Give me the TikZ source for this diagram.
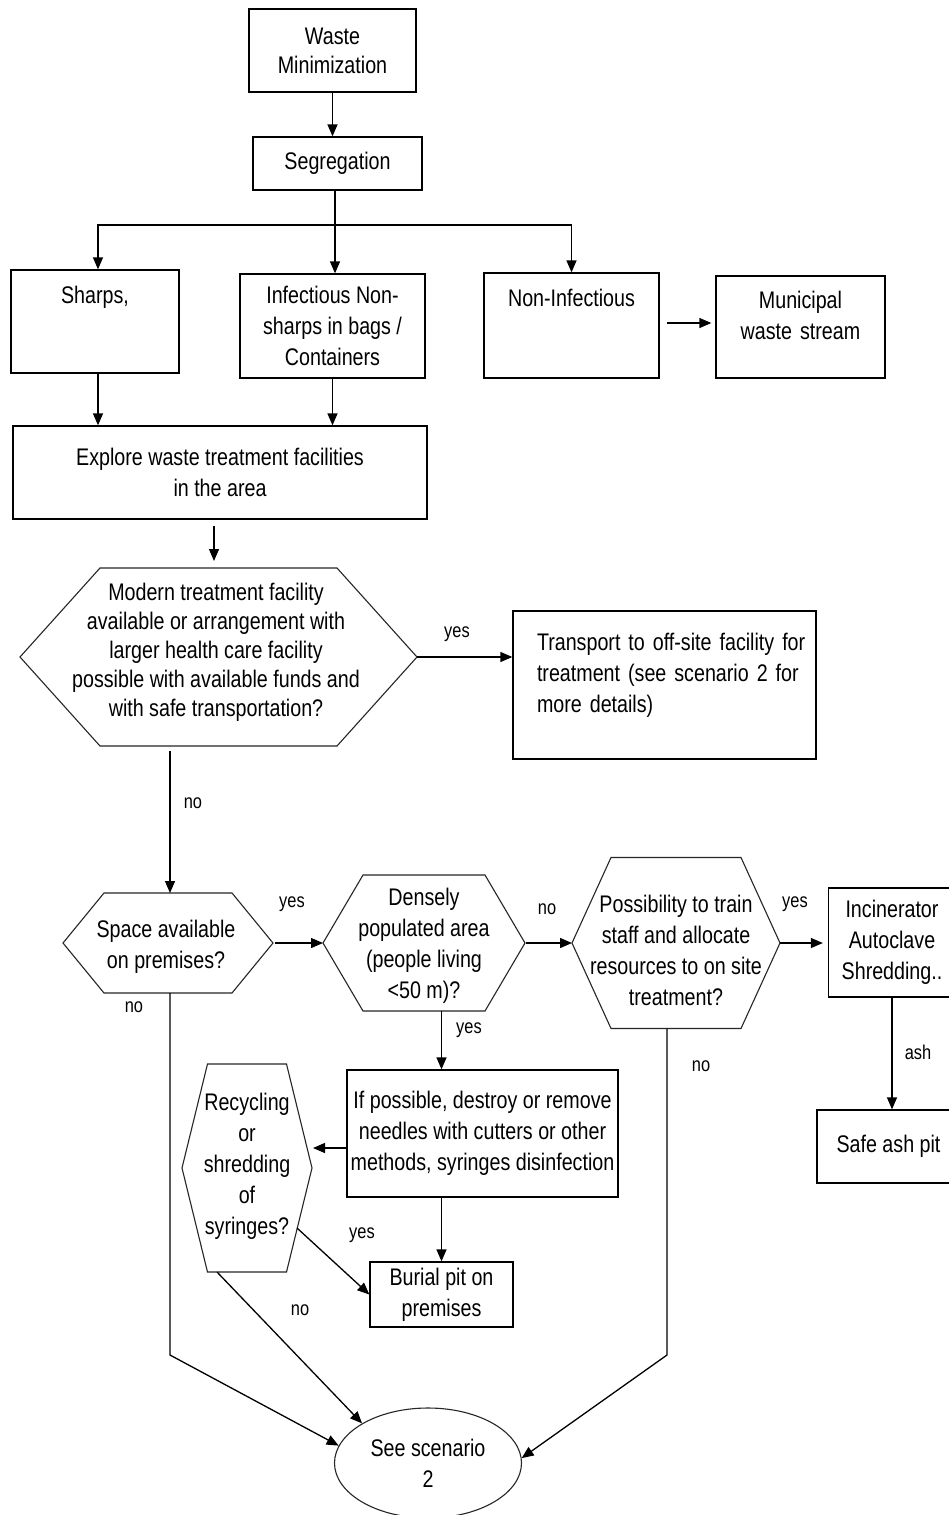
\documentclass[tikz,border=0pt]{standalone}
\usepackage{fontspec}
\setmainfont[FakeStretch=0.82]{Liberation Sans}
\usetikzlibrary{arrows.meta,shapes.geometric,calc}

\tikzset{
  every node/.style={font=\fontsize{24}{31}\selectfont},
  box/.style={draw=black, line width=1.3pt, rectangle, inner sep=0pt, align=center},
  hexline/.style={draw=black!85, line width=1.1pt, line join=miter},
  txt/.style={inner sep=0pt, align=center},
  lbl/.style={inner sep=0pt, font=\fontsize{20}{24}\selectfont},
  conn/.style={draw=black, line width=1.3pt},
  arrow/.style={conn, -{Triangle[length=12pt,width=10pt]}},
}

% hexagon with pointed left/right ends: name, cx, cy, half width, half flat width, half height
\newcommand{\drawhexagon}[6]{%
  \coordinate (#1-W) at ({#2-#4},{#3});
  \coordinate (#1-E) at ({#2+#4},{#3});
  \coordinate (#1-N) at ({#2},{#3-#6});
  \coordinate (#1-S) at ({#2},{#3+#6});
  \draw[hexline] (#1-W) -- ({#2-#5},{#3-#6}) -- ({#2+#5},{#3-#6}) -- (#1-E)
    -- ({#2+#5},{#3+#6}) -- ({#2-#5},{#3+#6}) -- cycle;
}

\begin{document}
\begin{tikzpicture}[x=1pt,y=-1pt]
\fill[white] (0,0) rectangle (948,1515);
\useasboundingbox (0,0) rectangle (948,1515);

% ---- top part ----
\node[box, minimum width=167pt, minimum height=83pt, font=\fontsize{24}{29}\selectfont] (wm) at (332.5,50.5) {Waste\\Minimization};
\node[box, minimum width=169pt, minimum height=53pt] (seg) at (337.5,163.5) {Segregation};

\node[box, text width=168pt, text height=33pt, text depth=70pt] (sharps) at (95,321.5) {Sharps,};
\node[box, minimum width=185pt, minimum height=104pt] (inf) at (332.5,326) {Infectious Non-\\sharps in bags /\\Containers};
\node[box, text width=175pt, text height=33pt, text depth=72pt] (noninf) at (571.5,325.5) {Non-Infectious};
\node[box, text width=169pt, text height=32pt, text depth=70pt] (mun) at (800.5,327) {Municipal\\waste stream};

\node[box, minimum width=414pt, minimum height=93pt] (exp) at (220,472.5) {Explore waste treatment facilities\\in the area};

% ---- first decision ----
\drawhexagon{mod}{218.5}{657}{198.5}{118.5}{89}
\node[txt, font=\fontsize{24}{29}\selectfont] (mod) at (216,652) {Modern treatment facility\\available or arrangement with\\larger health care facility\\possible with available funds and\\with safe transportation?};

\node[box, align=left, text width=303pt, text height=39pt, text depth=109pt] (trans) at (664.5,685)
  {\hspace*{24pt}\makebox[267pt][s]{Transport to off-site facility for}\\
   \hspace*{24pt}\makebox[267pt][s]{treatment (see scenario 2 for}\\
   \hspace*{24pt}more details)};

% ---- second row of decisions ----
\drawhexagon{sp}{168}{943}{105}{64}{50}
\node[txt] (sp) at (166,947) {Space available\\on premises?};

\drawhexagon{den}{424}{943}{101}{61}{68}
\node[txt] (den) at (424,946) {Densely\\populated area\\(people living\\<50 m)?};

\drawhexagon{pos}{676}{943}{104}{65}{85.5}
\node[txt] (pos) at (676,950) {Possibility to train\\staff and allocate\\resources to on site\\treatment?};

\node[box, minimum width=127pt, minimum height=109pt] (inc) at (892,942.5) {Incinerator\\Autoclave\\Shredding..};
\node[box, minimum width=143pt, minimum height=73pt] (ash) at (888.5,1146.5) {Safe ash pit};

% ---- lower part ----
\node[box, minimum width=271pt, minimum height=127pt] (iff) at (482.5,1133.5) {If possible, destroy or remove\\needles with cutters or other\\methods, syringes disinfection};
\node[box, minimum width=143pt, minimum height=65pt] (bur) at (441.5,1294.5) {Burial pit on\\premises};

\drawhexagon{rec}{247}{1168}{65}{39.5}{104}
\node[txt] (rec) at (247,1166) {Recycling\\or\\shredding\\of\\syringes?};

\node[draw=black!85, line width=1.1pt, ellipse, minimum width=187pt, minimum height=110pt, inner sep=0pt, align=center] (ell) at (428,1463) {See scenario\\2};

% ---- connectors ----
\coordinate (split) at (335,225);
\draw[arrow] (wm.south) -- (wm.south |- seg.north);
\draw[conn] (seg.south -| split) -- (split);
\draw[arrow] (split) -| ([xshift=3pt]sharps.north);
\draw[arrow] (split) -- (split |- inf.north);
\draw[arrow] (split) -| (noninf.north);
\draw[arrow, shorten <=7pt, shorten >=4pt] (noninf.east |- 0,323) -- (mun.west |- 0,323);
\draw[arrow] ([xshift=3pt]sharps.south) -- ([xshift=3pt]sharps.south |- exp.north);
\draw[arrow] (inf.south) -- (inf.south |- exp.north);
\draw[arrow, shorten <=6pt, shorten >=7pt] ([xshift=-6pt]exp.south) -- ([xshift=-6pt]exp.south |- mod-N);

\draw[arrow] (mod-E) -- (mod-E -| trans.west);
\draw[arrow, shorten <=5pt] ([xshift=2pt]sp-N |- mod-S) -- ([xshift=2pt]sp-N);

\draw[arrow, shorten <=2pt] (sp-E) -- (den-W);
\draw[arrow, shorten <=1pt] (den-E) -- (pos-W);
\draw[arrow, shorten >=5pt] (pos-E) -- (pos-E -| inc.west);
\draw[arrow] (inc.south) -- (inc.south |- ash.north);

\draw[arrow] (den-S -| bur) -- (iff.north -| bur);
\draw[arrow] (iff.south -| bur) -- (bur.north);
\coordinate (recIn) at (313,1148);
\draw[arrow] (iff.west |- recIn) -- (recIn);
\coordinate (recYes) at (297,1228);
\draw[arrow] (recYes) -- (bur.west);
\coordinate (recNo) at (217,1272);
\draw[arrow] (recNo) -- (ell.149);

\coordinate (spBend) at (170,1355);
\draw[arrow] (spBend |- sp-S) -- (spBend) -- (ell.169);
\coordinate (posBend) at (667,1355);
\draw[arrow] (posBend |- pos-S) -- (posBend) -- (ell.3);

% ---- branch labels ----
\node[lbl] (lModYes) at (457,634) {yes};
\node[lbl] (lModNo)  at (193,803) {no};
\node[lbl] (lSpYes)  at (292,904) {yes};
\node[lbl] (lSpNo)   at (134,1007) {no};
\node[lbl] (lDenNo)  at (547,909) {no};
\node[lbl] (lPosYes) at (795,904) {yes};
\node[lbl] (lDenYes) at (469,1030) {yes};
\node[lbl] (lAsh)    at (918,1052) {ash};
\node[lbl] (lPosNo)  at (701,1066) {no};
\node[lbl] (lRecYes) at (362,1235) {yes};
\node[lbl] (lRecNo)  at (300,1310) {no};
\end{tikzpicture}
\end{document}
